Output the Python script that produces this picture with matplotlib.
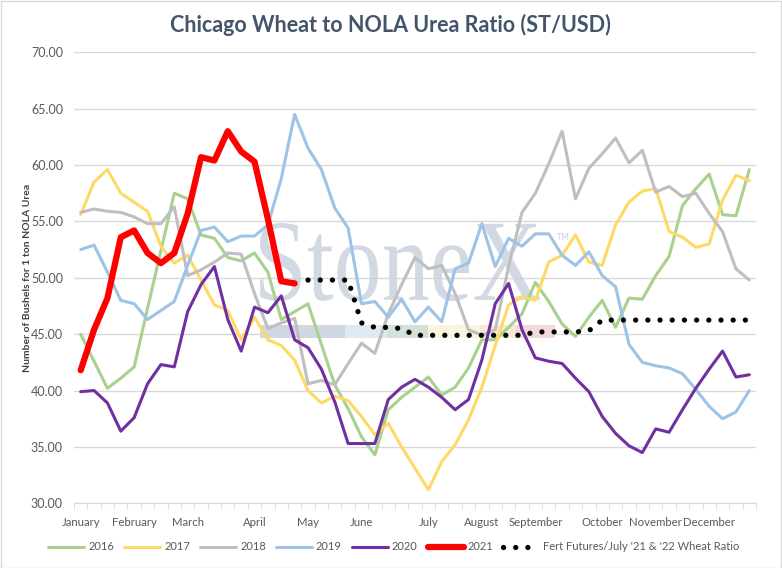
import numpy as np
import matplotlib
matplotlib.use("Agg")
import matplotlib.pyplot as plt
from matplotlib.textpath import TextPath
from matplotlib.font_manager import FontProperties
from matplotlib.patches import PathPatch, Rectangle
from matplotlib.transforms import Affine2D

# weekly categories, label only on first week of each month
n_weeks = 51
tick_pos = [0, 4, 8, 13, 17, 21, 26, 30, 34, 39, 43, 47]
tick_labels = ["January", "February", "March", "April", "May", "June",
               "July", "August", "September", "October", "November", "December"]

y2016 = [45.0, 42.6, 40.2, 41.1, 42.1, 47.3, 52.4, 57.5, 57.0, 53.8, 53.5,
         51.8, 51.5, 52.2, 50.5, 46.3, 47.0, 47.7, 44.1, 40.5, 38.4,
         35.9, 34.3, 38.3, 39.4, 40.3, 41.2, 39.6, 40.3, 42.0, 44.5,
         44.5, 45.6, 46.8, 49.6, 47.9, 45.9, 44.8, 46.5, 48.0, 45.6,
         48.2, 48.1, 50.2, 51.9, 56.4, 57.9, 59.2, 55.6, 55.5, 59.6]
y2017 = [55.6, 58.5, 59.6, 57.5, 56.7, 55.9, 52.8, 51.3, 52.0, 49.8, 47.6,
         47.1, 44.5, 46.5, 44.5, 44.0, 42.7, 40.0, 38.9, 39.5, 39.1,
         37.7, 36.1, 37.1, 35.0, 33.1, 31.2, 33.7, 35.2, 37.4, 40.3,
         44.0, 47.6, 48.3, 48.0, 51.4, 52.0, 53.8, 51.4, 51.1, 54.7,
         56.7, 57.7, 57.9, 54.1, 53.6, 52.7, 53.0, 56.9, 59.1, 58.6]
y2018 = [55.8, 56.1, 55.9, 55.8, 55.4, 54.8, 54.8, 56.3, 50.2, 50.7, 51.4,
         52.2, 52.1, 48.6, 45.5, 46.0, 46.4, 40.6, 40.9, 40.5, 42.4,
         44.2, 43.3, 46.8, 49.4, 51.8, 50.8, 51.1, 48.6, 45.4, 44.9,
         45.4, 51.0, 55.8, 57.5, 60.1, 63.0, 57.0, 59.7, 61.0, 62.4,
         60.2, 61.3, 57.6, 58.1, 57.2, 57.5, 55.7, 54.1, 50.8, 49.8]
y2019 = [52.5, 52.9, 50.5, 48.0, 47.7, 46.3, 47.1, 47.9, 51.1, 54.2, 54.5,
         53.2, 53.7, 53.7, 54.7, 58.8, 64.5, 61.5, 59.6, 56.2, 54.4,
         47.7, 47.9, 46.5, 48.1, 46.1, 47.4, 46.1, 50.8, 51.3, 54.8,
         51.0, 53.5, 52.8, 53.9, 53.9, 52.0, 51.1, 52.3, 50.2, 49.2,
         44.1, 42.5, 42.2, 42.0, 41.5, 40.1, 38.6, 37.5, 38.1, 40.0]
y2020 = [39.9, 40.0, 38.9, 36.4, 37.6, 40.6, 42.3, 42.1, 47.0, 49.4, 51.0,
         46.3, 43.5, 47.4, 46.9, 48.4, 44.5, 43.8, 41.9, 39.0, 35.3,
         35.3, 35.3, 39.2, 40.3, 41.0, 40.3, 39.4, 38.3, 39.2, 42.7,
         47.7, 49.5, 45.4, 42.9, 42.6, 42.4, 41.1, 39.9, 37.7, 36.2,
         35.1, 34.5, 36.6, 36.3, 38.3, 40.2, 41.9, 43.5, 41.2, 41.4]
# 2021 only through early May
y2021 = [41.8, 45.4, 48.2, 53.6, 54.2, 52.2, 51.3, 52.2, 55.7, 60.7, 60.4,
         63.0, 61.2, 60.3, 55.2, 49.7, 49.5]
# fert futures ratio starts at week 17
fert_start = 17
fert = [49.8, 49.8, 49.8, 49.8, 46.0, 45.6, 45.6, 45.5, 44.9, 44.9,
        44.9, 44.9, 44.9, 44.9, 44.9, 44.9, 44.9, 45.2, 45.2, 45.2,
        45.2, 45.3, 46.25, 46.25, 46.25, 46.25, 46.25, 46.25, 46.25, 46.25,
        46.25, 46.25, 46.25, 46.25]

W, H = 782, 568
fig = plt.figure(figsize=(W / 100, H / 100), dpi=100)
fig.patch.set_facecolor("white")
fig.add_artist(Rectangle((0.5 / W, 0.5 / H), 1 - 1.5 / W, 1 - 1.5 / H, transform=fig.transFigure,
                         fill=False, edgecolor="#D9D9D9", linewidth=1))

left, right, top, bottom = 74, 756, 52.3, 503.3
ax = fig.add_axes([left / W, (H - bottom) / H, (right - left) / W, (bottom - top) / H])

x = np.arange(n_weeks)
series = [("2016", y2016, "#A9D18E", 2.2),
          ("2017", y2017, "#FFD966", 2.2),
          ("2018", y2018, "#BFBFBF", 2.2),
          ("2019", y2019, "#9DC3E6", 2.2),
          ("2020", y2020, "#7030A0", 2.2),
          ("2021", y2021, "#FF0000", 4.5)]
for name, vals, col, lw in series:
    ax.plot(x[:len(vals)], vals, color=col, linewidth=lw, label=name,
            solid_joinstyle="round", solid_capstyle="round", zorder=3)

fx = x[fert_start:fert_start + len(fert)]
ax.plot(fx, fert, color="black", linewidth=3.8, linestyle=(0, (0.01, 2.3)),
        dash_capstyle="round", label="Fert Futures/July '21 & '22 Wheat Ratio", zorder=4)

ax.set_xlim(-0.5, n_weeks - 0.5)
ax.set_ylim(30, 70)
ax.set_yticks(np.arange(30, 71, 5))
ax.set_yticklabels([f"{v:.2f}" for v in np.arange(30, 71, 5)])
ax.grid(axis="y", color="#D9D9D9", linewidth=1)
ax.set_axisbelow(True)
for s in ["top", "right", "left"]:
    ax.spines[s].set_visible(False)
ax.spines["bottom"].set_color("#D9D9D9")

ax.set_xticks(tick_pos)
ax.set_xticklabels(tick_labels)
ax.set_xticks(np.arange(-0.5, n_weeks, 1), minor=True)
ax.tick_params(axis="x", which="major", length=0, pad=10, labelsize=8.2, labelcolor="#595959")
ax.tick_params(axis="x", which="minor", length=4.5, color="#D9D9D9")
ax.tick_params(axis="y", length=0, pad=8, labelsize=9, labelcolor="#595959")
for lab in ax.get_xticklabels() + ax.get_yticklabels():
    lab.set_fontfamily("Lato")

fig.text(28 / W, 1 - 278 / H, "Number of Bushels for 1 ton NOLA Urea", rotation=90,
         ha="center", va="center", fontsize=7.5, fontweight="bold", color="#404040", family="Lato")
fig.text(390 / W, 1 - 25 / H, "Chicago Wheat to NOLA Urea Ratio (ST/USD)", ha="center", va="center",
         fontsize=15.5, fontweight="bold", color="#44546A", family="Lato")

# StoneX watermark, squeezed into its box behind the lines
tp = TextPath((0, 0), "StoneX", size=100, prop=FontProperties(family="Liberation Serif"))
ext = tp.get_extents()
bx0, bx1, by_top, by_bot = 260, 540, 223, 301
sx = (bx1 - bx0) / W / ext.width
sy = (by_bot - by_top) / H / ext.height
tr = Affine2D().translate(-ext.x0, -ext.y0).scale(sx, sy).translate(bx0 / W, (H - by_bot) / H)
ax.add_patch(PathPatch(tr.transform_path(tp), transform=fig.transFigure, facecolor="#CBD3DD",
                       edgecolor="none", alpha=0.85, zorder=1))
fig.text(556 / W, 1 - 238 / H, "TM", fontsize=6.5, color="#CBD3DD", ha="left", va="center")
bar_edges = [260, 345, 387, 428, 480, 515, 555]
bar_cols = ["#CFD8E2", "#DFEAF3", "#D3E2D9", "#F8F4DE", "#F8E8D6", "#F3DADA"]
for x0, x1, c in zip(bar_edges[:-1], bar_edges[1:], bar_cols):
    ax.add_patch(Rectangle((x0 / W, (H - 338) / H), (x1 - x0) / W, 13 / H, transform=fig.transFigure,
                           facecolor=c, edgecolor="none", zorder=1))

handles, labels = ax.get_legend_handles_labels()
leg = fig.legend(handles, labels, loc="center", bbox_to_anchor=(394 / W, 1 - 547 / H), ncol=7,
                 frameon=False, handlelength=3.25, columnspacing=0.9, handletextpad=0.35,
                 prop={"family": "Lato", "size": 8})
for t in leg.get_texts():
    t.set_color("#595959")

fig.savefig("out.png", dpi=100)
